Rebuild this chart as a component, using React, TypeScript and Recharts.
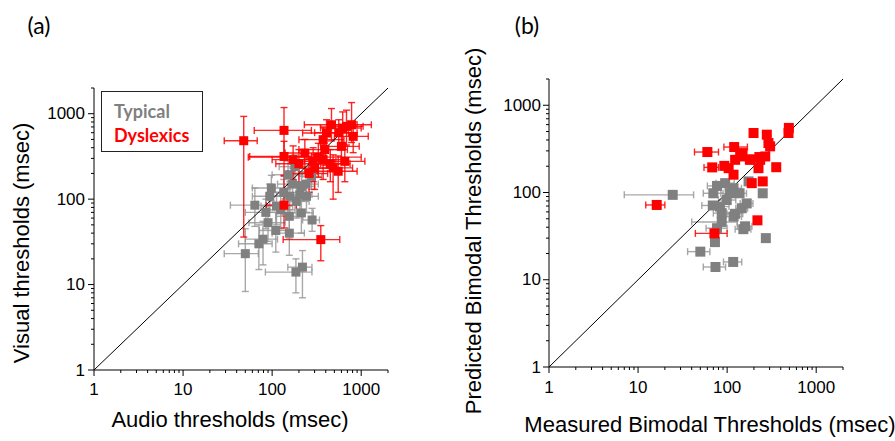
import { ErrorBar, ReferenceLine, Scatter, ScatterChart, XAxis, YAxis } from "recharts";

// panel (a): [audio, visual, audioLo, audioHi, visualLo, visualHi]
const typicalA = [
  [50, 23, 29, 70, 8.3, 45],
  [64, 85, 34, 110, 48, 135],
  [98, 135, 60, 150, 95, 190],
  [90, 53, 55, 140, 32, 85],
  [110, 43, 72, 150, 24, 70],
  [71, 30, 42, 100, 15, 50],
  [79, 34, 50, 115, 17, 55],
  [156, 40, 100, 230, 22, 75],
  [185, 14, 84, 280, 8, 20],
  [219, 16, 150, 280, 7, 25],
  [281, 57, 220, 340, 42, 78],
  [213, 69, 150, 290, 40, 120],
  [156, 63, 110, 220, 35, 110],
  [243, 108, 170, 330, 70, 150],
  [205, 113, 140, 280, 75, 160],
  [158, 108, 100, 230, 70, 160],
  [151, 193, 100, 220, 130, 280],
  [277, 185, 200, 360, 130, 250],
  [112, 83, 75, 170, 50, 120],
  [94, 108, 60, 140, 70, 150],
  [213, 141, 150, 300, 95, 210],
  [187, 94, 130, 260, 60, 140],
  [125, 75, 85, 180, 45, 110],
  [170, 150, 115, 250, 100, 230],
  [135, 120, 90, 200, 80, 170],
  [240, 150, 170, 330, 100, 210],
  [180, 240, 120, 260, 160, 330],
  [85, 70, 50, 130, 45, 100],
];

const dyslexicA = [
  [48, 483, 29, 68, 36, 930],
  [136, 638, 63, 276, 300, 1180],
  [136, 85, 86, 187, 46, 190],
  [352, 33.6, 133, 575, 19, 49],
  [136, 316, 56, 276, 186, 475],
  [464, 743, 230, 900, 480, 1150],
  [684, 711, 420, 1050, 430, 1100],
  [780, 743, 500, 1300, 460, 1350],
  [408, 594, 220, 720, 380, 850],
  [374, 497, 200, 640, 300, 700],
  [172, 290, 100, 300, 170, 420],
  [233, 347, 140, 400, 200, 500],
  [289, 277, 160, 520, 160, 400],
  [374, 290, 230, 600, 170, 430],
  [484, 232, 300, 800, 100, 330],
  [552, 212, 320, 900, 120, 320],
  [655, 277, 400, 1100, 160, 420],
  [391, 380, 200, 700, 250, 550],
  [600, 415, 350, 950, 260, 600],
  [813, 543, 500, 1200, 350, 800],
  [300, 230, 180, 500, 130, 330],
  [200, 260, 110, 350, 150, 380],
  [560, 600, 300, 900, 380, 850],
  [330, 310, 54, 1000, 180, 450],
  [260, 200, 150, 420, 120, 300],
  [620, 680, 350, 1000, 450, 1050],
  [450, 260, 280, 750, 160, 380],
];

// panel (b): [measured, predicted, measuredLo, measuredHi]
const typicalB = [
  [24.5, 94, 7, 42],
  [50, 21, 36, 64],
  [74, 14, 54, 96],
  [117, 16, 91, 146],
  [272, 30, 272, 272],
  [73, 27, 73, 73],
  [251, 98, 251, 251],
  [152, 38, 123, 185],
  [159, 41, 130, 190],
  [166, 75, 140, 195],
  [146, 66, 125, 170],
  [123, 57, 100, 150],
  [118, 53, 95, 145],
  [87, 46, 40, 130],
  [77, 39, 58, 100],
  [70, 98, 54, 90],
  [69, 71, 52, 90],
  [77, 119, 60, 100],
  [95, 128, 75, 120],
  [108, 98, 85, 135],
  [138, 98, 110, 165],
  [99, 82, 80, 125],
  [83, 69, 65, 105],
  [87, 58, 70, 110],
  [174, 134, 174, 174],
  [118, 112, 95, 145],
];

const dyslexicB = [
  [16.2, 72, 12.2, 20],
  [60, 291, 43, 80],
  [68, 194, 55, 80],
  [72, 34, 44, 100],
  [93, 202, 93, 93],
  [120, 332, 92, 169],
  [123, 237, 123, 123],
  [140, 259, 140, 140],
  [118, 160, 118, 118],
  [189, 128, 189, 189],
  [198, 481, 198, 198],
  [279, 460, 279, 279],
  [291, 369, 291, 291],
  [304, 338, 304, 304],
  [251, 134, 251, 251],
  [219, 48, 219, 219],
  [356, 195, 356, 356],
  [489, 481, 489, 489],
  [493, 550, 493, 493],
  [235, 237, 235, 235],
  [268, 259, 268, 268],
  [181, 237, 181, 181],
  [225, 190, 225, 225],
  [104, 190, 104, 104],
  [149, 283, 149, 149],
  [180, 240, 180, 180],
  [230, 255, 230, 230],
];

const decades = [1, 10, 100, 1000];
const tickLabels = ["1", "10", "100", "1000"];
const axisMax = 2000;
const logTicks = decades
  .flatMap((d) => [1, 2, 3, 4, 5, 6, 7, 8, 9].map((k) => k * d))
  .filter((v) => v <= axisMax);

const GRAY = "#808080";
const RED = "#ff0000";
const font = "'Liberation Sans', Arial, sans-serif";

const withXY = (pts: number[][]) =>
  pts.map(([x, y, xl, xh, yl, yh]) => ({
    x,
    y,
    ex: [x - xl, xh - x],
    ey: yl === undefined ? [0, 0] : [y - yl, yh - y],
  }));

const LogTick = ({ x, y, payload, side, gap }: any) => {
  const i = decades.indexOf(payload.value);
  const len = i >= 0 ? 6 : 3;
  if (side === "x") {
    return (
      <g>
        <line x1={x} y1={y} x2={x} y2={y + len} stroke="#000" />
        {i >= 0 && (
          <text x={x} y={y + gap} textAnchor="middle" dominantBaseline="central" fontSize={17} fontFamily={font} fill="#000">
            {tickLabels[i]}
          </text>
        )}
      </g>
    );
  }
  return (
    <g>
      <line x1={x} y1={y} x2={x - len} y2={y} stroke="#000" />
      {i >= 0 && (
        <text x={x - gap} y={y} textAnchor="end" dominantBaseline="central" fontSize={17} fontFamily={font} fill="#000">
          {tickLabels[i]}
        </text>
      )}
    </g>
  );
};

const square = (size: number, fill: string) => (p: any) =>
  <rect x={p.cx - size / 2} y={p.cy - size / 2} width={size} height={size} fill={fill} />;

type PanelProps = {
  left: number;
  width: number;
  top: number;
  yAxisWidth: number;
  xAxisHeight: number;
  right: number;
  xGap: number;
  yGap: number;
  typical: any[];
  dyslexic: any[];
  yErrors: boolean;
  size: number;
};

const Panel = (p: PanelProps) => (
  <div style={{ position: "absolute", left: p.left, top: 0 }}>
    <ScatterChart width={p.width} height={441} margin={{ top: p.top, right: p.right, bottom: 0, left: 0 }}>
      <XAxis
        type="number"
        dataKey="x"
        scale="log"
        domain={[1, axisMax]}
        allowDataOverflow
        ticks={logTicks}
        interval={0}
        height={p.xAxisHeight}
        tickSize={0}
        tickMargin={0}
        axisLine={{ stroke: "#000" }}
        tick={(t: any) => <LogTick {...t} side="x" gap={p.xGap} />}
      />
      <YAxis
        type="number"
        dataKey="y"
        scale="log"
        domain={[1, axisMax]}
        allowDataOverflow
        ticks={logTicks}
        interval={0}
        width={p.yAxisWidth}
        tickSize={0}
        tickMargin={0}
        axisLine={{ stroke: "#000" }}
        tick={(t: any) => <LogTick {...t} side="y" gap={p.yGap} />}
      />
      <Scatter data={p.typical} shape={square(p.size, GRAY)} isAnimationActive={false}>
        <ErrorBar dataKey="ex" direction="x" width={3.5} stroke="#999" strokeOpacity={0.85} strokeWidth={1.4} isAnimationActive={false} />
        {p.yErrors && (
          <ErrorBar dataKey="ey" direction="y" width={3.5} stroke="#999" strokeOpacity={0.85} strokeWidth={1.4} isAnimationActive={false} />
        )}
      </Scatter>
      <Scatter data={p.dyslexic} shape={square(p.size, RED)} isAnimationActive={false}>
        <ErrorBar dataKey="ex" direction="x" width={3.5} stroke={RED} strokeOpacity={0.85} strokeWidth={1.4} isAnimationActive={false} />
        {p.yErrors && (
          <ErrorBar dataKey="ey" direction="y" width={3.5} stroke={RED} strokeOpacity={0.85} strokeWidth={1.4} isAnimationActive={false} />
        )}
      </Scatter>
      <ReferenceLine
        segment={[
          { x: 1, y: 1 },
          { x: axisMax, y: axisMax },
        ]}
        stroke="#000"
        strokeWidth={1}
        ifOverflow="visible"
      />
    </ScatterChart>
  </div>
);

const title: React.CSSProperties = {
  position: "absolute",
  fontFamily: font,
  fontSize: 22,
  color: "#000",
  whiteSpace: "nowrap",
  lineHeight: 1,
};

export default function App() {
  return (
    <div style={{ position: "absolute", left: 0, top: 0, width: 895, height: 441, background: "#fff", overflow: "hidden" }}>
      <Panel
        left={0}
        width={420}
        top={88}
        right={32}
        yAxisWidth={94}
        xAxisHeight={71}
        xGap={19}
        yGap={9}
        typical={withXY(typicalA)}
        dyslexic={withXY(dyslexicA)}
        yErrors
        size={9}
      />
      <Panel
        left={450}
        width={445}
        top={79}
        right={52}
        yAxisWidth={99}
        xAxisHeight={74}
        xGap={20}
        yGap={8}
        typical={withXY(typicalB)}
        dyslexic={withXY(dyslexicB)}
        yErrors={false}
        size={10}
      />

      <div style={{ ...title, fontFamily: "Lato, sans-serif", fontSize: 23, left: 39, top: 25, transform: "translate(-50%, -50%)" }}>(a)</div>
      <div style={{ ...title, fontFamily: "Lato, sans-serif", fontSize: 23, left: 527, top: 25, transform: "translate(-50%, -50%)" }}>(b)</div>

      <div style={{ ...title, left: 230, top: 420, transform: "translate(-50%, -50%)" }}>Audio thresholds (msec)</div>
      <div style={{ ...title, left: 22, top: 243, transform: "translate(-50%, -50%) rotate(-90deg)" }}>Visual thresholds (msec)</div>
      <div style={{ ...title, left: 710, top: 425, transform: "translate(-50%, -50%)" }}>Measured Bimodal Thresholds (msec)</div>
      <div style={{ ...title, left: 474, top: 231, transform: "translate(-50%, -50%) rotate(-90deg)" }}>Predicted Bimodal Thresholds (msec)</div>

      <div
        style={{
          position: "absolute",
          left: 101,
          top: 91,
          width: 100,
          height: 59,
          border: "1.3px solid #222",
          fontFamily: "Lato, sans-serif",
          fontWeight: 700,
          fontSize: 18,
          lineHeight: 1,
        }}
      >
        <div style={{ position: "absolute", left: 12, top: 10, color: GRAY }}>Typical</div>
        <div style={{ position: "absolute", left: 12, top: 34, color: RED }}>Dyslexics</div>
      </div>
    </div>
  );
}
